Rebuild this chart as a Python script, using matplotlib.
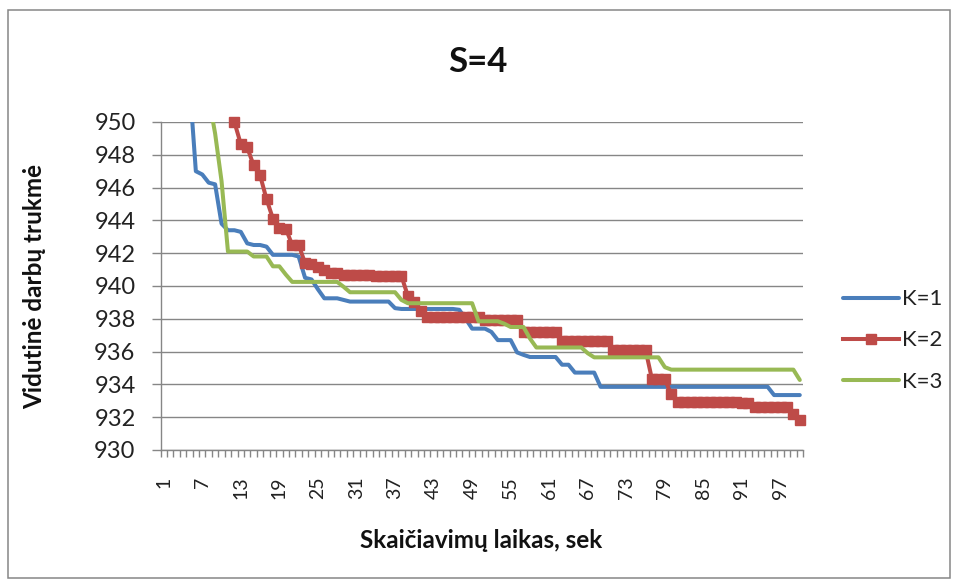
import matplotlib
matplotlib.use('Agg')
import numpy as np
import matplotlib.pyplot as plt
from matplotlib.patches import Rectangle

plt.rcParams['font.family'] = ['Lato', 'DejaVu Sans']

nan = float('nan')

title = 'S=4'
x_label = 'Skaičiavimų laikas, sek'
y_label = 'Vidutinė darbų trukmė'
series_names = ['K=1', 'K=2', 'K=3']

categories = list(range(1, 101))
x_tick_labels = [str(c) for c in range(1, 101, 6)]
y_ticks = [930, 932, 934, 936, 938, 940, 942, 944, 946, 948, 950]

k1 = [nan, nan, nan, nan, 952.5, 947.0, 946.8, 946.3, 946.2, 943.8,
      943.4, 943.4, 943.3, 942.6, 942.5, 942.5, 942.4, 941.9, 941.9, 941.9,
      941.9, 941.8, 940.5, 940.4, 939.8, 939.25, 939.25, 939.25, 939.15, 939.05,
      939.05, 939.05, 939.05, 939.05, 939.05, 939.05, 938.65, 938.6, 938.6, 938.6,
      938.6, 938.6, 938.6, 938.6, 938.6, 938.6, 938.55, 938.0, 937.4, 937.4,
      937.4, 937.2, 936.7, 936.7, 936.7, 935.95, 935.8, 935.67, 935.67, 935.67,
      935.67, 935.67, 935.2, 935.2, 934.72, 934.72, 934.72, 934.72, 933.85, 933.85,
      933.85, 933.85, 933.85, 933.85, 933.85, 933.85, 933.85, 933.85, 933.85, 933.85,
      933.85, 933.85, 933.85, 933.85, 933.85, 933.85, 933.85, 933.85, 933.85, 933.85,
      933.85, 933.85, 933.85, 933.85, 933.85, 933.35, 933.35, 933.35, 933.35, 933.35]

k2 = [nan, nan, nan, nan, nan, nan, nan, nan, nan, nan,
      nan, 950.0, 948.65, 948.45, 947.35, 946.75, 945.3, 944.1, 943.55, 943.5,
      942.5, 942.5, 941.4, 941.35, 941.15, 940.95, 940.8, 940.8, 940.7, 940.7,
      940.7, 940.7, 940.7, 940.6, 940.6, 940.6, 940.6, 940.6, 939.4, 939.0,
      938.5, 938.1, 938.1, 938.1, 938.1, 938.1, 938.1, 938.1, 938.1, 938.1,
      937.9, 937.9, 937.9, 937.9, 937.9, 937.9, 937.2, 937.2, 937.2, 937.2,
      937.2, 937.2, 936.65, 936.65, 936.65, 936.65, 936.65, 936.65, 936.65, 936.65,
      936.1, 936.1, 936.1, 936.1, 936.1, 936.1, 934.3, 934.3, 934.3, 933.4,
      932.95, 932.95, 932.95, 932.95, 932.95, 932.95, 932.95, 932.95, 932.95, 932.95,
      932.85, 932.85, 932.65, 932.65, 932.65, 932.65, 932.65, 932.65, 932.2, 931.8]

k3 = [nan, nan, nan, nan, nan, nan, nan, 951.5, 949.3, 946.4,
      942.1, 942.1, 942.1, 942.1, 941.8, 941.8, 941.8, 941.2, 941.2, 940.7,
      940.25, 940.25, 940.25, 940.25, 940.25, 940.25, 940.25, 940.25, 939.95, 939.62,
      939.62, 939.62, 939.62, 939.62, 939.62, 939.62, 939.62, 939.15, 938.95, 938.95,
      938.95, 938.95, 938.95, 938.95, 938.95, 938.95, 938.95, 938.95, 938.95, 937.85,
      937.85, 937.85, 937.85, 937.7, 937.5, 937.5, 937.5, 936.8, 936.25, 936.25,
      936.25, 936.25, 936.25, 936.25, 936.25, 936.25, 935.9, 935.65, 935.65, 935.65,
      935.65, 935.65, 935.65, 935.65, 935.65, 935.65, 935.65, 935.65, 935.05, 934.9,
      934.9, 934.9, 934.9, 934.9, 934.9, 934.9, 934.9, 934.9, 934.9, 934.9,
      934.9, 934.9, 934.9, 934.9, 934.9, 934.9, 934.9, 934.9, 934.9, 934.27]

W, H = 957, 581
fig = plt.figure(figsize=(W / 100, H / 100), dpi=100)
fig.patch.set_facecolor('white')

L, R, T, B = 160.5, 803, 122, 450
ax = fig.add_axes([L / W, 1 - B / H, (R - L) / W, (B - T) / H])

grid_c = '#868686'
blue = '#4A7EBB'
red = '#BE4B48'
green = '#98B954'

ax.plot(categories, k1, color=blue, lw=2.9, solid_joinstyle='round',
        solid_capstyle='round', label=series_names[0], zorder=3)
ax.plot(categories, k2, color=red, lw=2.9, marker='s', ms=7, mec=red, mfc=red,
        solid_joinstyle='round', label=series_names[1], zorder=4, clip_on=False)
ax.plot(categories, k3, color=green, lw=2.9, solid_joinstyle='round',
        solid_capstyle='round', label=series_names[2], zorder=5)

ax.set_xlim(0.5, 100.5)
ax.set_ylim(930, 950)
ax.set_yticks(y_ticks)
ax.set_yticklabels([str(v) for v in y_ticks], fontsize=17, color='#222222')
ax.yaxis.grid(True, color=grid_c, lw=1)
ax.set_axisbelow(True)

ax.set_xticks(list(range(1, 101, 6)))
ax.set_xticklabels(x_tick_labels, rotation=90, fontsize=14, color='#222222')
ax.set_xticks(np.arange(0.5, 101, 1), minor=True)
ax.tick_params(axis='x', which='major', length=0, pad=19)
ax.tick_params(axis='x', which='minor', length=5, width=1, color=grid_c, direction='out')
ax.tick_params(axis='y', which='major', length=6.5, width=1, color=grid_c, direction='out', pad=11.5)

for s in ['top', 'right']:
    ax.spines[s].set_visible(False)
for s in ['left', 'bottom']:
    ax.spines[s].set_color(grid_c)
    ax.spines[s].set_linewidth(1)

fig.text(478 / W, 1 - 62 / H, title, ha='center', va='center', fontsize=25,
         fontweight='bold', color='#111111')
fig.text(481 / W, 1 - 540 / H, x_label, ha='center', va='center', fontsize=17.5,
         fontweight='bold', color='#111111')
fig.text(35 / W, 1 - 287 / H, y_label, ha='center', va='center', rotation=90,
         fontsize=17.5, fontweight='bold', color='#111111')

leg = ax.legend(loc='center left', bbox_to_anchor=(843 / W, 1 - 340.5 / H),
                bbox_transform=fig.transFigure, frameon=False, fontsize=16,
                handlelength=2.5, handletextpad=0.17, labelspacing=0.95,
                borderpad=0, borderaxespad=0)
for t in leg.get_texts():
    t.set_color('#222222')

fig.patches.append(Rectangle((8 / W, 1 - 578 / H), (950 - 8) / W, (578 - 10) / H,
                             transform=fig.transFigure, fill=False,
                             edgecolor=grid_c, lw=1.1))

fig.savefig('out.png', dpi=100)
